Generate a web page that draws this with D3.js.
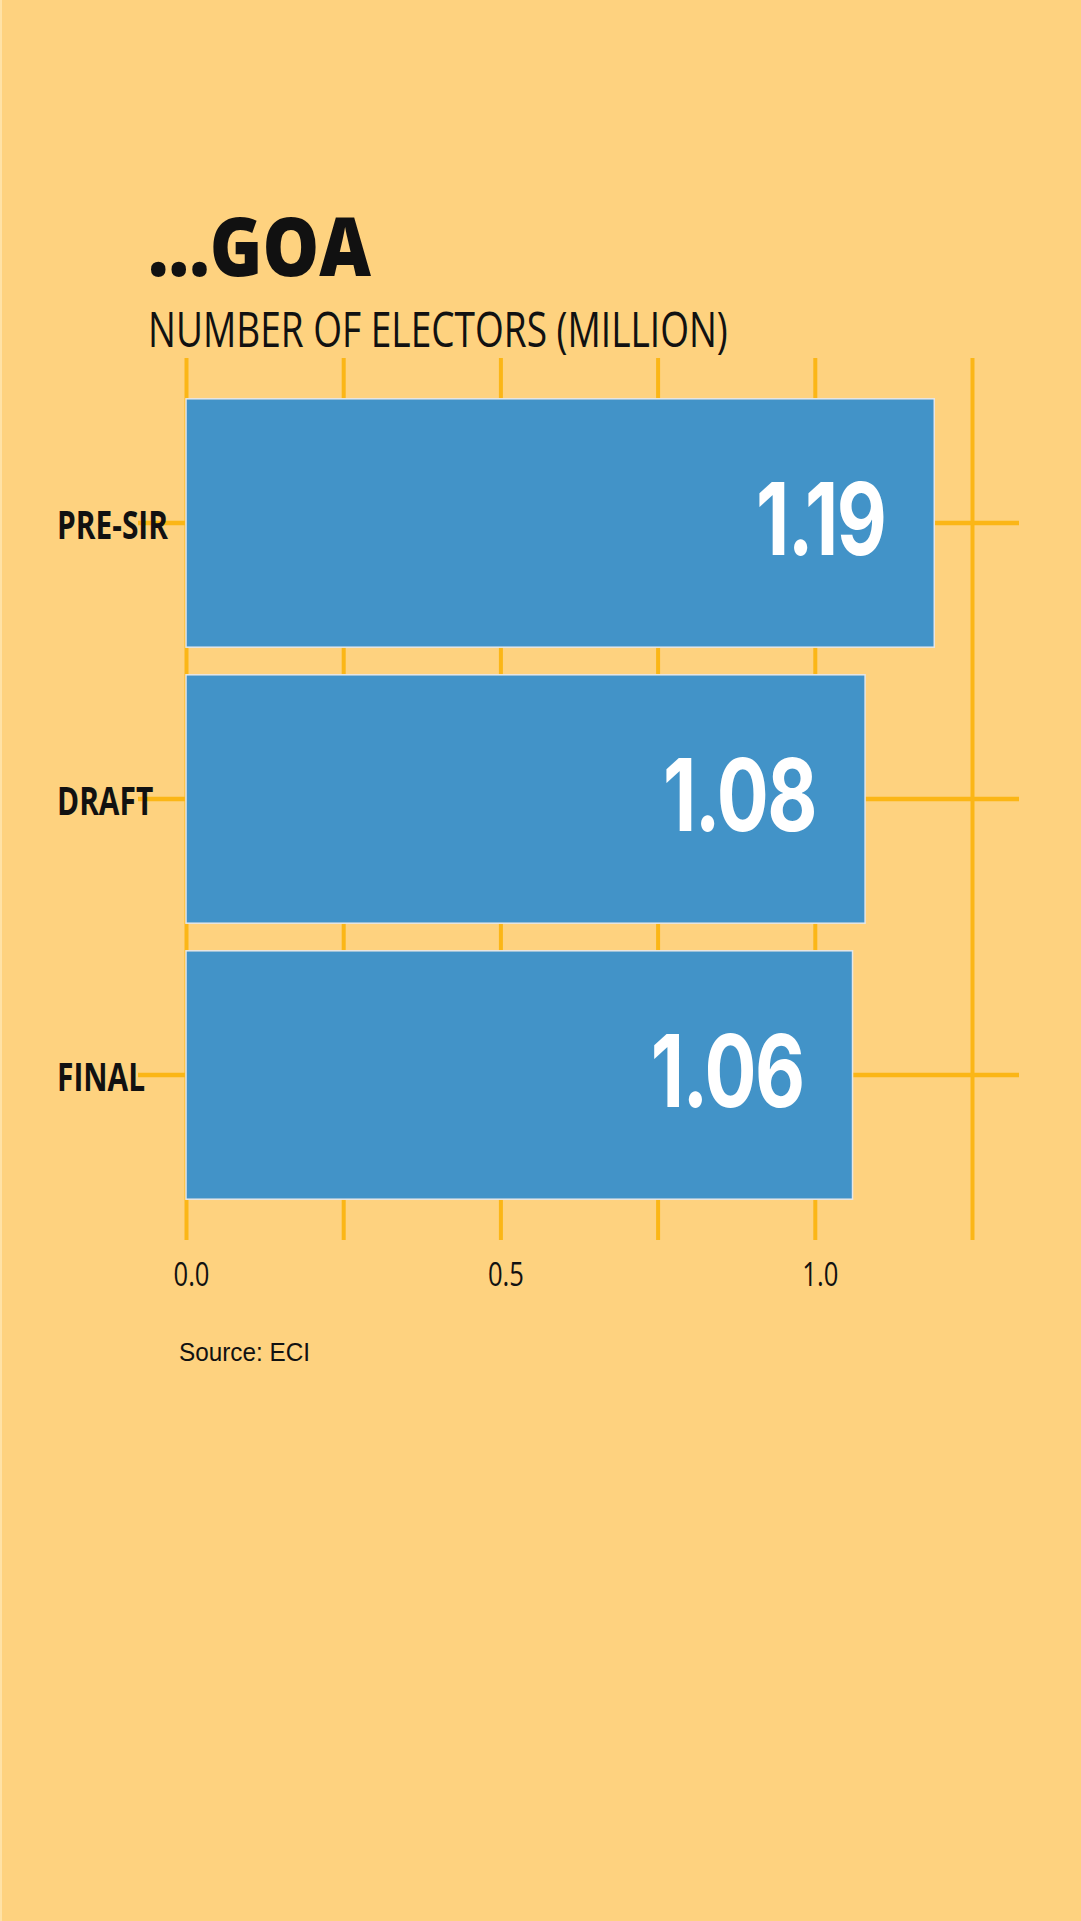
<!DOCTYPE html>
<html>
<head>
<meta charset="utf-8">
<script src="https://cdn.jsdelivr.net/npm/d3@7"></script>
<style>
  html, body { margin: 0; padding: 0; background: #fed27f; }
  svg { display: block; }
  text { font-family: "Open Sans", "Noto Sans", sans-serif; }
</style>
</head>
<body>
<svg id="chart" width="1081" height="1921"></svg>
<script>
// data
const stages = ["PRE-SIR", "DRAFT", "FINAL"];
const electors = [1.19, 1.08, 1.06];
const gridTicks = [0, 0.25, 0.5, 0.75, 1.0, 1.25];
const labelTicks = [0, 0.5, 1.0];
const title = "...GOA";
const subtitle = "NUMBER OF ELECTORS (MILLION)";
const source = "Source: ECI";

const W = 1081, H = 1921;
const gridTop = 358, gridBottom = 1240;

const svg = d3.select('#chart');
svg.append('rect').attr('width', W).attr('height', H).attr('fill', '#fed27f');
svg.append('rect').attr('width', 2).attr('height', H).attr('fill', '#ffe2a6');

const x = d3.scaleLinear().domain([0, 1.25]).range([186, 972]);
const y = d3.scaleBand().domain(stages).range([385, 1213]).paddingInner(0.1).paddingOuter(0.05);

const rows = stages.map((s, i) => ({ stage: s, value: electors[i] }));

// squeeze text horizontally around its x anchor
function squeeze(sel, k){
  sel.each(function(){
    const t = d3.select(this);
    const tx = +t.attr('x') || 0;
    t.attr('transform', `translate(${tx*(1-k)},0) scale(${k},1)`);
  });
}
const fitK = (node, target) => target / node.getComputedTextLength();

// vertical grid
const grid = svg.append('g').attr('transform', `translate(0,${gridBottom})`)
  .call(d3.axisBottom(x).tickValues(gridTicks).tickSize(-(gridBottom - gridTop)).tickFormat(''));
grid.select('.domain').remove();
grid.selectAll('line').attr('stroke', '#fbb616').attr('stroke-width', 4);

// horizontal rules through each band
svg.append('g').selectAll('line').data(rows).join('line')
  .attr('x1', 138).attr('x2', x(1.25) + 47)
  .attr('y1', d => y(d.stage) + y.bandwidth()/2)
  .attr('y2', d => y(d.stage) + y.bandwidth()/2)
  .attr('stroke', '#fbb616').attr('stroke-width', 4.5);

// bars
svg.append('g').selectAll('rect').data(rows).join('rect')
  .attr('x', x(0))
  .attr('y', d => y(d.stage))
  .attr('width', d => x(d.value) - x(0))
  .attr('height', y.bandwidth())
  .attr('fill', '#4293c8')
  .attr('stroke', '#e6e6e6').attr('stroke-width', 1.5);

// value labels
const vals = svg.append('g').selectAll('text').data(rows).join('text')
  .attr('x', d => x(d.value) - 49)
  .attr('y', d => y(d.stage) + y.bandwidth()/2 + 32)
  .attr('text-anchor', 'end')
  .attr('fill', '#fff')
  .style('font-family', 'Inter, "Open Sans", sans-serif')
  .style('font-size', '100px').style('font-weight', 700)
  .style('letter-spacing', '-2px')
  .text(d => d.value.toFixed(2));
squeeze(vals, fitK(vals.nodes()[1], 153));

// category labels
const cats = svg.append('g').selectAll('text').data(rows).join('text')
  .attr('x', 57)
  .attr('y', d => y(d.stage) + y.bandwidth()/2 + 16)
  .attr('fill', '#111')
  .style('font-size', '39px').style('font-weight', 700)
  .text(d => d.stage);
squeeze(cats, fitK(cats.node(), 111));

// tick labels
const axis = svg.append('g').attr('transform', `translate(5,${gridBottom})`)
  .call(d3.axisBottom(x).tickValues(labelTicks).tickSize(0).tickFormat(d3.format('.1f')));
axis.select('.domain').remove();
const tl = axis.selectAll('text')
  .attr('y', 46).attr('dy', 0)
  .attr('fill', '#111')
  .style('font-size', '32px').style('font-family', '"Open Sans", sans-serif');
squeeze(tl, fitK(tl.node(), 36));

// title and subtitle
const tt = svg.append('text').attr('x', 148).attr('y', 276)
  .attr('fill', '#111')
  .style('font-size', '82px').style('font-weight', 800)
  .text(title);
squeeze(tt, fitK(tt.node(), 223));

const st = svg.append('text').attr('x', 148).attr('y', 347)
  .attr('fill', '#111')
  .style('font-size', '49px').style('font-weight', 400)
  .text(subtitle);
squeeze(st, fitK(st.node(), 580));

const src = svg.append('text').attr('x', 179).attr('y', 1361)
  .attr('fill', '#111')
  .style('font-size', '26px').style('font-family', '"Liberation Sans", Arial, sans-serif')
  .text(source);
squeeze(src, fitK(src.node(), 131));
</script>
</body>
</html>
